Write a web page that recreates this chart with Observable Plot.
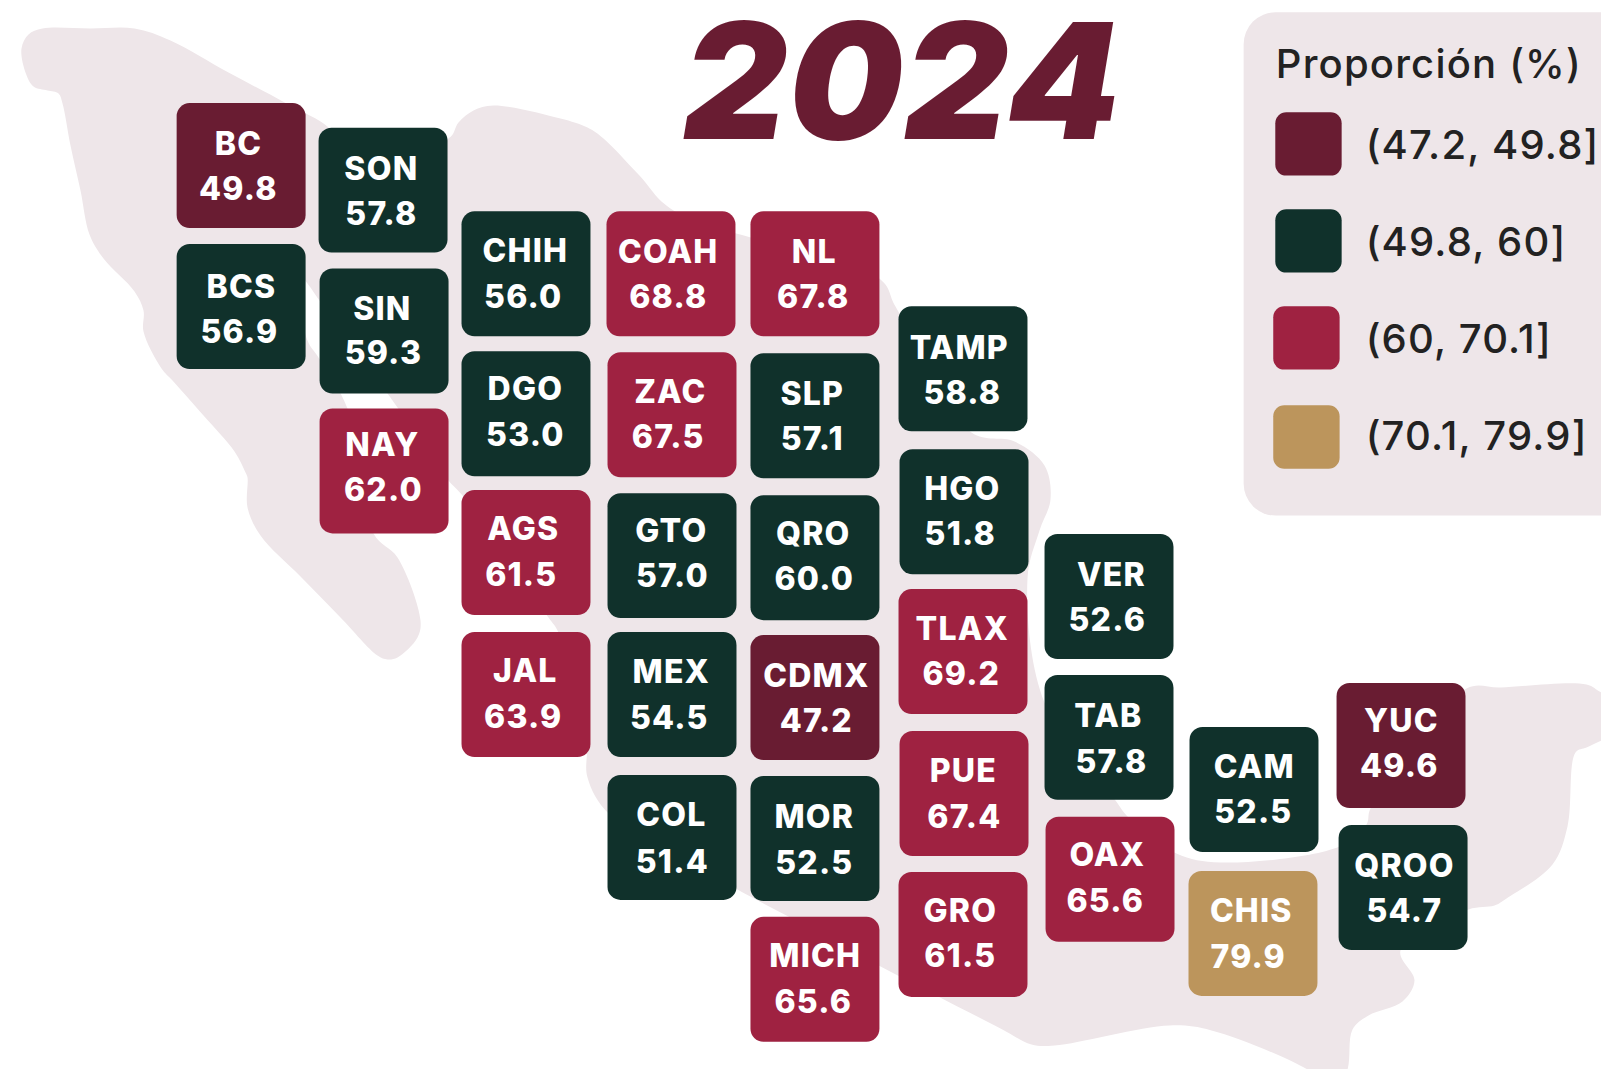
<!DOCTYPE html>
<html lang="es">
<head>
<meta charset="utf-8">
<title>Proporción 2024</title>
<script src="https://cdn.jsdelivr.net/npm/d3@7"></script>
<script src="https://cdn.jsdelivr.net/npm/@observablehq/plot@0.6"></script>
<style>
html,body{margin:0;padding:0;background:#fff;overflow:hidden}
svg{display:block}
</style>
</head>
<body>
<div id="chart"></div>
<script>
const codes = ["BC","BCS","SON","SIN","NAY","CHIH","DGO","AGS","JAL","COAH","ZAC","GTO","MEX","COL","NL","SLP","QRO","CDMX","MOR","MICH","TAMP","HGO","TLAX","PUE","GRO","VER","TAB","OAX","CAM","CHIS","YUC","QROO"];
const values = [49.8,56.9,57.8,59.3,62.0,56.0,53.0,61.5,63.9,68.8,67.5,57.0,54.5,51.4,67.8,57.1,60.0,47.2,52.5,65.6,58.8,51.8,69.2,67.4,61.5,52.6,57.8,65.6,52.5,79.9,49.6,54.7];
// Tile map grid position (left / top of each state's tile), in reference units
const tileLeft = [173,173,312,313,313,452,452,452,452,594,595,595,595,595,735,735,735,735,735,735,880,881,880,881,880,1023,1023,1024,1165,1164,1309,1311];
const tileTop  = [101,239,125,263,400,207,344,480,619,207,345,483,619,759,207,346,485,622,760,898,300,440,577,716,854,523,661,800,712,853,669,808];
const codeX = [233,236,373,374,374,514,514,512,514,654,656,657,657,657,797,795,796,799,797,798,939,942,942,943,940,1088,1085,1084,1228,1225,1372,1375];
const codeY = [140,280,164,301,435,245,380,517,656,246,383,519,657,797,246,385,522,661,799,935,340,478,615,754,891,562,700,836,750,891,705,847];
const valueX = [233,234,373,375,375,512,514,510,512,654,654,658,655,658,796,795,797,799,797,796,942,940,941,944,940,1084,1088,1082,1227,1222,1370,1375];
const valueY = [184,324,208,345,479,290,425,562,701,290,427,563,702,843,290,429,566,705,844,980,384,522,659,799,935,606,745,881,794,936,749,891];

const yearTitle = "2024";
const legendTitle = "Proporción (%)";
const legendLabels = ["(47.2, 49.8]","(49.8, 60]","(60, 70.1]","(70.1, 79.9]"];
const legendUpper = [49.8,60,70.1,79.9];
const legendColors = ["#691C32","#10312B","#9F2241","#BC955C"];
const swatchLeft = [1249,1249,1247,1247];
const swatchTop = [110,205,300,397];
const legendLabelY = [141,236,331,426];

// Silhouette of the country, traced in full-size reference pixels
const outlineX = [21,25,33,47,58,62,70,80,89,103,134,143,143,161,172,203,234,245,247,247,260,300,340,377,387,397,417,420,397,373,347,318,307,296,307,319,387,397,448,462,548,558,586,587,609,737,786,882,1000,1031,1054,1169,1211,1307,1335,1347,1352,1368,1402,1414,1400,1468,1494,1506,1552,1567,1575,1586,1601,1625,1625,1601,1586,1500,1466,1370,1366,1339,1220,1176,1128,1115,1044,1027,1039,1050,1044,1014,971,895,880,673,638,603,587,560,493,473,458,448,340,328,286,228,170,134,90,42,28];
const outlineY = [48,72,86,90,93,103,145,190,234,258,291,310,331,368,380,415,451,472,477,507,535,576,617,655,659,657,637,620,557,533,408,357,340,270,283,300,393,407,480,495,617,632,740,777,814,889,915,967,1028,1044,1045,1025,1030,1069,1090,1069,1029,1015,1001,980,950,909,905,898,864,826,752,747,740,730,700,692,684,687,688,808,824,846,862,853,817,800,702,578,530,499,465,441,432,306,279,210,174,138,127,118,105,110,122,138,145,127,103,72,40,28,28,28,34];

const greyRose = "#EEE6E9";
const k = 1601 / 1568;
const w = 1601, h = 1069;

const states = codes.map((code, i) => ({
  code,
  value: values[i],
  label: values[i].toFixed(1),
  bin: legendLabels[legendUpper.findIndex(u => values[i] <= u)],
  left: tileLeft[i],
  top: tileTop[i],
  codeX: codeX[i],
  codeY: codeY[i],
  valueX: valueX[i],
  valueY: valueY[i]
}));
const outline = outlineX.map((x, i) => ({x: x / k, y: outlineY[i] / k}));
const legendRows = legendLabels.map((label, i) => ({label, left: swatchLeft[i], top: swatchTop[i], y: legendLabelY[i]}));

const tileW = 126.3, tileH = 122.4;
const tileFont = {fontFamily: "Inter, sans-serif", fontWeight: 800, fontSize: 32, fill: "#fff", textAnchor: "middle", lineAnchor: "middle", dy: 1.5};

const plot = Plot.plot({
  width: w,
  height: h,
  margin: 0,
  x: {domain: [0, 1568], range: [0, w], axis: null},
  y: {domain: [0, 1047], range: [0, h], axis: null},
  color: {type: "ordinal", domain: legendLabels, range: legendColors},
  style: {background: "#fff", letterSpacing: "1.2px"},
  marks: [
    Plot.line(outline, {x: "x", y: "y", fill: greyRose, stroke: "none", curve: "catmull-rom-closed"}),
    // legend panel
    Plot.rect([0], {x1: () => 1218, x2: () => 1610, y1: () => 12, y2: () => 505, fill: greyRose, rx: 32, ry: 32}),
    Plot.text([legendTitle], {x: () => 1249, y: () => 63, text: d => d, textAnchor: "start", fontFamily: "Inter, sans-serif", fontWeight: 500, fontSize: 40, fill: "#222"}),
    Plot.rect(legendRows, {x1: "left", x2: d => d.left + 65, y1: "top", y2: d => d.top + 62, fill: "label", rx: 11, ry: 11}),
    Plot.text(legendRows, {x: () => 1337, y: "y", text: "label", textAnchor: "start", fontFamily: "Inter, sans-serif", fontWeight: 500, fontSize: 40, fill: "#222", dy: 1.5}),
    // year
    Plot.text([yearTitle], {x: () => 883, y: () => 85, text: d => d, textAnchor: "middle", fontFamily: "Inter, sans-serif", fontWeight: 900, fontStyle: "italic", fontSize: 161, fill: legendColors[0]}),
    // tiles
    Plot.rect(states, {x1: "left", x2: d => d.left + tileW, y1: "top", y2: d => d.top + tileH, fill: "bin", rx: 13, ry: 13}),
    Plot.text(states, {x: "codeX", y: "codeY", text: "code", ...tileFont}),
    Plot.text(states, {x: "valueX", y: "valueY", text: "label", ...tileFont})
  ]
});
document.getElementById("chart").appendChild(plot);
</script>
</body>
</html>
